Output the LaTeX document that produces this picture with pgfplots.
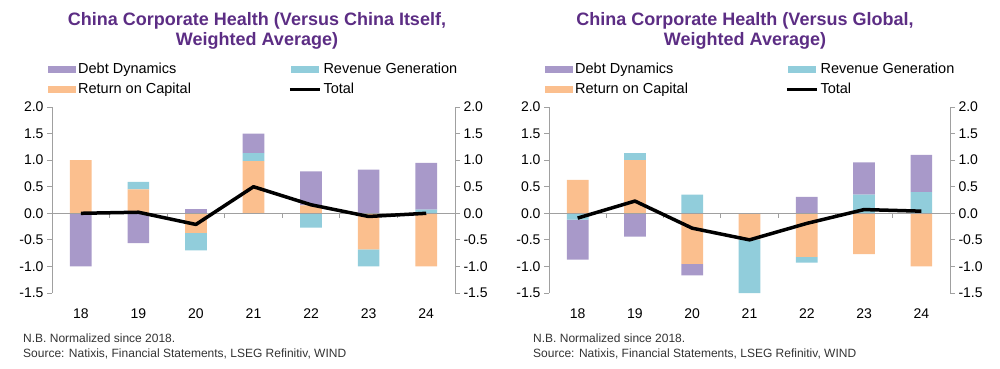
\documentclass[border=0pt]{standalone}
\usepackage{pgfplots}
\pgfplotsset{compat=1.18}
\usepackage{pgfplotstable}
\usepackage{fontspec}
\setmainfont{Liberation Sans}
\definecolor{cDebt}{HTML}{A899C9}
\definecolor{cRev}{HTML}{91CDDB}
\definecolor{cRet}{HTML}{FBBF8E}
\definecolor{cTitle}{HTML}{5C2D84}
\definecolor{cAxis}{HTML}{A0A0A0}
\definecolor{cNote}{HTML}{333333}

% China vs itself
\pgfplotstableread{
x ret rev debt total
0 1.00 0.00 -1.00 0.00
1 0.45 0.14 -0.56 0.02
2 -0.37 -0.33 0.08 -0.21
3 0.98 0.15 0.37 0.50
4 0.15 -0.27 0.64 0.16
5 -0.68 -0.32 0.82 -0.06
6 -1.00 0.07 0.88 0.00
}\tabItself

% China vs global
\pgfplotstableread{
x ret rev debt total
0 0.63 -0.12 -0.75 -0.09
1 1.00 0.13 -0.44 0.23
2 -0.95 0.35 -0.22 -0.28
3 -0.49 -1.01 0.00 -0.50
4 -0.82 -0.11 0.31 -0.19
5 -0.77 0.35 0.61 0.07
6 -1.00 0.40 0.70 0.04
}\tabGlobal

% category separators on the zero line
\pgfplotstableread{
x y
0.5 -0.08
1.5 -0.08
2.5 -0.08
3.5 -0.08
4.5 -0.08
5.5 -0.08
}\tabSep

\pgfplotsset{
  panel/.style={scale only axis, height=186pt, xmin=-0.5, xmax=6.5, ymin=-1.5, ymax=2,
    anchor=south west, clip=false,
    ticklabel style={font=\fontsize{14}{16}\selectfont, text=black},
    /pgf/number format/assume math mode=true},
  yaxisfmt/.style={ytick={-1.5,-1,-0.5,0,0.5,1,1.5,2},
    yticklabel style={/pgf/number format/.cd, fixed, fixed zerofill, precision=1},
    axis line style={cAxis, line width=0.9pt, -},
    tick style={cAxis, line width=0.9pt}, tick align=outside, major tick length=5pt},
  stackbars/.style={ybar stacked, bar width=21.7pt},
  swatch/.style={legend image code/.code={\fill[##1, draw=none] (0pt,-3.5pt) rectangle (28pt,3.5pt);}},
  lineswatch/.style={legend image code/.code={\draw[##1] (-1pt,0pt) -- (29pt,0pt);}},
  legendfmt/.style={legend columns=2, legend cell align=left,
    legend style={draw=none, fill=none, at={(-0.01,1.2366)}, anchor=north west,
      font=\fontsize{14.5}{16}\selectfont, inner sep=0pt, row sep=7pt,
      nodes={inner xsep=2pt, inner ysep=0pt, text height=10pt, text depth=3pt},
      /tikz/every even column/.append style={column sep=95pt}}},
  baseaxis/.style={panel, axis x line=none, axis y line=none},
}

\begin{document}
\begin{tikzpicture}
\useasboundingbox (0,0) rectangle (1000pt,-368pt);

% ===== Left panel =====
\begin{axis}[baseaxis, at={(52pt,-293pt)}, width=403pt]
\addplot[cAxis, line width=0.9pt, ycomb, mark=none] table[x=x, y=y] {\tabSep};
\end{axis}
\begin{axis}[panel, yaxisfmt, stackbars, at={(52pt,-293pt)}, width=403pt,
  axis x line=none, axis y line*=left]
\addplot[fill=cRet, draw=none] table[x=x, y expr={min(\thisrow{ret},0)}] {\tabItself};
\addplot[fill=cRev, draw=none] table[x=x, y expr={min(\thisrow{rev},0)}] {\tabItself};
\addplot[fill=cDebt, draw=none] table[x=x, y expr={min(\thisrow{debt},0)}] {\tabItself};
\end{axis}
\begin{axis}[panel, yaxisfmt, stackbars, at={(52pt,-293pt)}, width=403pt,
  axis x line=none, axis y line*=right]
\addplot[fill=cRet, draw=none] table[x=x, y expr={max(\thisrow{ret},0)}] {\tabItself};
\addplot[fill=cRev, draw=none] table[x=x, y expr={max(\thisrow{rev},0)}] {\tabItself};
\addplot[fill=cDebt, draw=none] table[x=x, y expr={max(\thisrow{debt},0)}] {\tabItself};
\end{axis}
\begin{axis}[panel, legendfmt, at={(52pt,-293pt)}, width=403pt,
  axis y line=none, axis x line*=bottom, x axis line style={draw=none},
  xtick={0,1,2,3,4,5,6}, xticklabels={18,19,20,21,22,23,24},
  xtick style={draw=none}, xticklabel style={yshift=-12pt}]
\draw[cAxis, line width=0.9pt] (axis cs:-0.5,0) -- (axis cs:6.5,0);
\addlegendimage{swatch, fill=cDebt}
\addlegendentry{Debt Dynamics}
\addlegendimage{swatch, fill=cRev}
\addlegendentry{Revenue Generation}
\addlegendimage{swatch, fill=cRet}
\addlegendentry{Return on Capital}
\addplot[black, line width=3.5pt, line join=round, lineswatch] table[x=x, y=total] {\tabItself};
\addlegendentry{Total}
\end{axis}

% ===== Right panel =====
\begin{axis}[baseaxis, at={(549pt,-293pt)}, width=401pt]
\addplot[cAxis, line width=0.9pt, ycomb, mark=none] table[x=x, y=y] {\tabSep};
\end{axis}
\begin{axis}[panel, yaxisfmt, stackbars, at={(549pt,-293pt)}, width=401pt,
  axis x line=none, axis y line*=left]
\addplot[fill=cRet, draw=none] table[x=x, y expr={min(\thisrow{ret},0)}] {\tabGlobal};
\addplot[fill=cRev, draw=none] table[x=x, y expr={min(\thisrow{rev},0)}] {\tabGlobal};
\addplot[fill=cDebt, draw=none] table[x=x, y expr={min(\thisrow{debt},0)}] {\tabGlobal};
\end{axis}
\begin{axis}[panel, yaxisfmt, stackbars, at={(549pt,-293pt)}, width=401pt,
  axis x line=none, axis y line*=right]
\addplot[fill=cRet, draw=none] table[x=x, y expr={max(\thisrow{ret},0)}] {\tabGlobal};
\addplot[fill=cRev, draw=none] table[x=x, y expr={max(\thisrow{rev},0)}] {\tabGlobal};
\addplot[fill=cDebt, draw=none] table[x=x, y expr={max(\thisrow{debt},0)}] {\tabGlobal};
\end{axis}
\begin{axis}[panel, legendfmt, at={(549pt,-293pt)}, width=401pt,
  axis y line=none, axis x line*=bottom, x axis line style={draw=none},
  xtick={0,1,2,3,4,5,6}, xticklabels={18,19,20,21,22,23,24},
  xtick style={draw=none}, xticklabel style={yshift=-12pt}]
\draw[cAxis, line width=0.9pt] (axis cs:-0.5,0) -- (axis cs:6.5,0);
\addlegendimage{swatch, fill=cDebt}
\addlegendentry{Debt Dynamics}
\addlegendimage{swatch, fill=cRev}
\addlegendentry{Revenue Generation}
\addlegendimage{swatch, fill=cRet}
\addlegendentry{Return on Capital}
\addplot[black, line width=3.5pt, line join=round, lineswatch] table[x=x, y=total] {\tabGlobal};
\addlegendentry{Total}
\end{axis}

% Titles
\node[align=center, font=\fontsize{18}{20}\bfseries\selectfont, text=cTitle]
  at (257pt,-31pt) {China Corporate Health (Versus China Itself,\\Weighted Average)};
\node[align=center, font=\fontsize{18}{20}\bfseries\selectfont, text=cTitle]
  at (745pt,-31pt) {China Corporate Health (Versus Global,\\Weighted Average)};

% Notes
\node[anchor=base west, inner sep=0pt, font=\fontsize{12}{15}\selectfont, text=cNote]
  at (23pt,-342pt) {N.B. Normalized since 2018.};
\node[anchor=base west, inner sep=0pt, font=\fontsize{12}{15}\selectfont, text=cNote]
  at (23pt,-357pt) {Source: Natixis, Financial Statements, LSEG Refinitiv, WIND};
\node[anchor=base west, inner sep=0pt, font=\fontsize{12}{15}\selectfont, text=cNote]
  at (533pt,-342pt) {N.B. Normalized since 2018.};
\node[anchor=base west, inner sep=0pt, font=\fontsize{12}{15}\selectfont, text=cNote]
  at (533pt,-357pt) {Source: Natixis, Financial Statements, LSEG Refinitiv, WIND};
\end{tikzpicture}
\end{document}
